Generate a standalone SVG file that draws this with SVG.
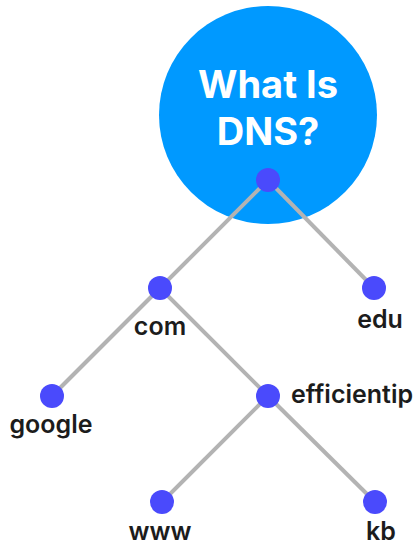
<svg xmlns="http://www.w3.org/2000/svg" width="420" height="547" viewBox="0 0 420 547">
  <style>
    .edge { stroke: #b3b3b3; stroke-width: 4; fill: none; }
    .dot { fill: #4a4afc; }
    .label { font-family: Inter, "Noto Sans", "DejaVu Sans", sans-serif; font-weight: 600; font-size: 25px; fill: #1c1c1c; }
    .title { font-family: Inter, "Noto Sans", "DejaVu Sans", sans-serif; font-weight: 700; font-size: 38px; fill: #ffffff; text-anchor: middle; }
  </style>
  <rect width="420" height="547" fill="#ffffff"/>
  <g id="title-bubble">
    <circle cx="268" cy="115" r="109" fill="#0099ff"/>
    <text class="title" x="268" y="98">What Is</text>
    <text class="title" x="268" y="145">DNS?</text>
  </g>
  <g id="connectors">
    <line class="edge" x1="268" y1="180" x2="160" y2="288"/>
    <line class="edge" x1="268" y1="180" x2="374" y2="288"/>
    <line class="edge" x1="160" y1="288" x2="52" y2="396"/>
    <line class="edge" x1="160" y1="288" x2="268" y2="396"/>
    <line class="edge" x1="268" y1="396" x2="162" y2="502"/>
    <line class="edge" x1="268" y1="396" x2="375" y2="502"/>
  </g>
  <g id="root"><circle class="dot" cx="268" cy="180" r="12"/></g>
  <g id="com">
    <circle class="dot" cx="160" cy="288" r="12"/>
    <text class="label" x="160" y="335" text-anchor="middle">com</text>
  </g>
  <g id="edu">
    <circle class="dot" cx="374" cy="288" r="12"/>
    <text class="label" x="380" y="328" text-anchor="middle">edu</text>
  </g>
  <g id="google">
    <circle class="dot" cx="52" cy="396" r="12"/>
    <text class="label" x="51" y="433" text-anchor="middle">google</text>
  </g>
  <g id="efficientip">
    <circle class="dot" cx="268" cy="396" r="12"/>
    <text class="label" x="291" y="403">efficientip</text>
  </g>
  <g id="www">
    <circle class="dot" cx="162" cy="502" r="12"/>
    <text class="label" x="160" y="540" text-anchor="middle">www</text>
  </g>
  <g id="kb">
    <circle class="dot" cx="375" cy="502" r="12"/>
    <text class="label" x="381" y="540" text-anchor="middle">kb</text>
  </g>
</svg>
